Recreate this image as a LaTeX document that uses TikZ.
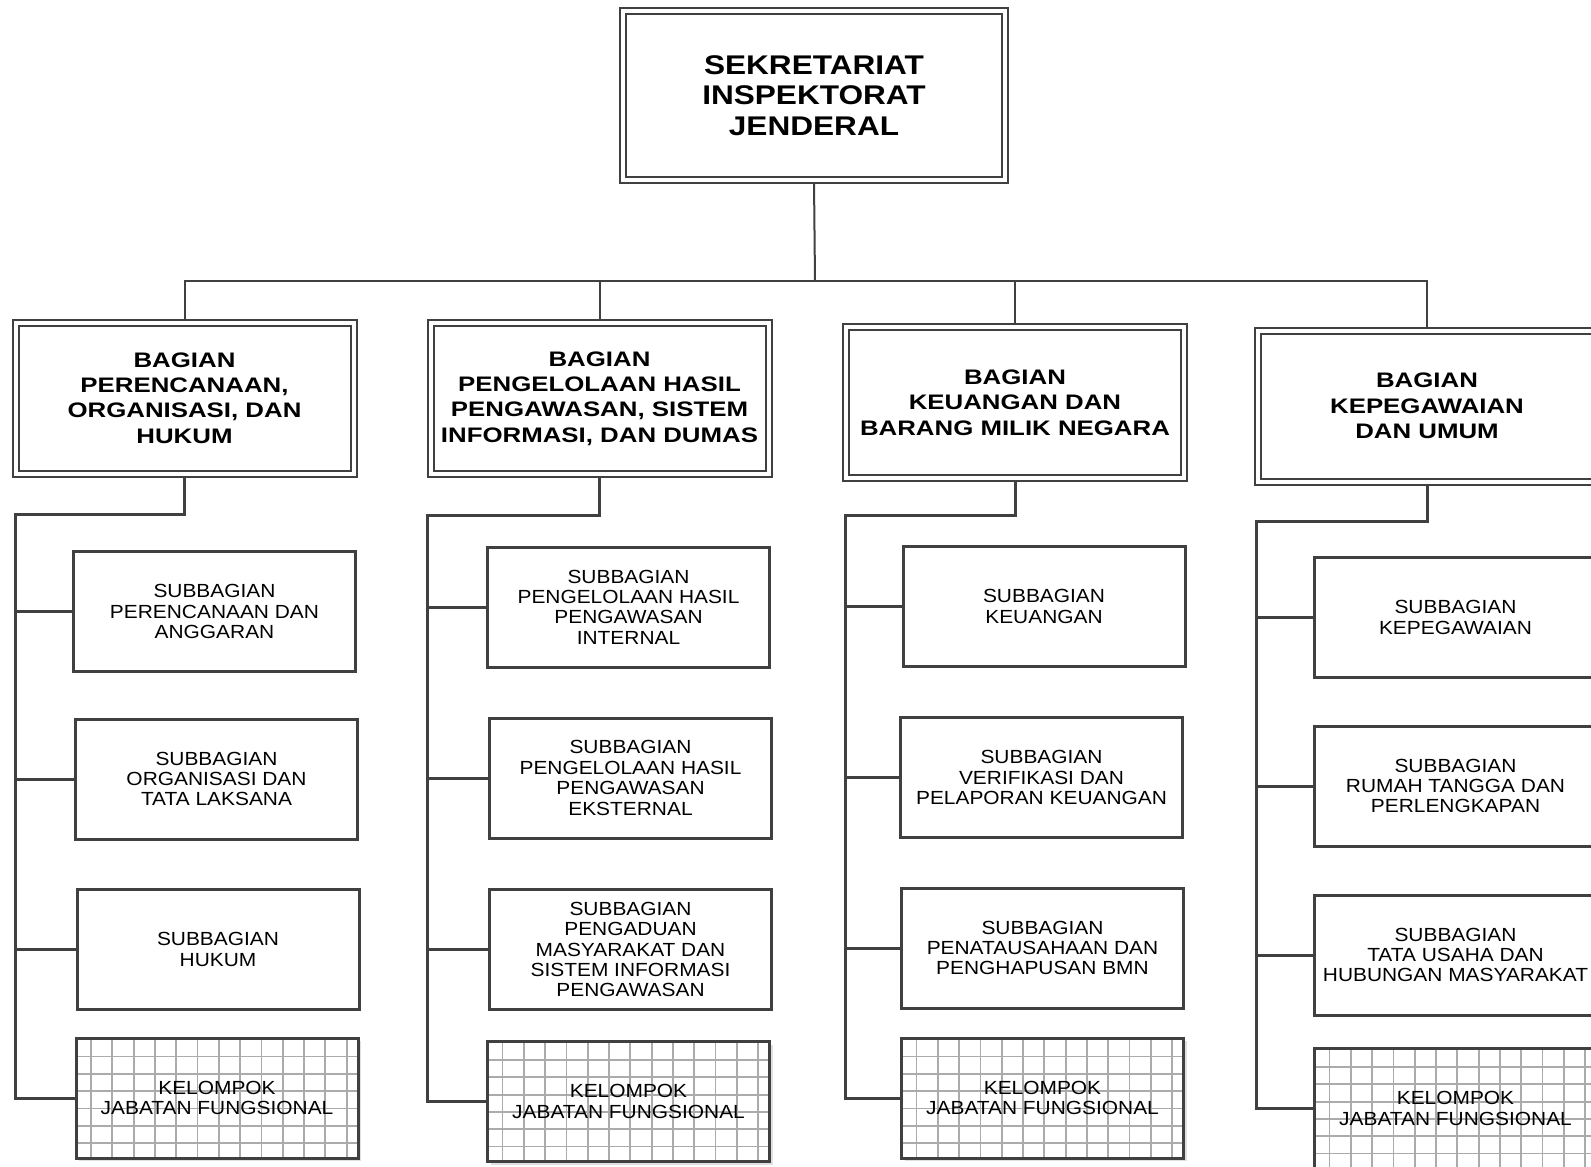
\documentclass[tikz,border=0pt]{standalone}
\usepackage{fontspec}
\setmainfont{Liberation Sans}
\newfontfamily\topfont[FakeStretch=1.17]{Liberation Sans}
\newfontfamily\bagfont[FakeStretch=1.23]{Liberation Sans}
\newfontfamily\subfont[FakeStretch=1.1]{Liberation Sans}
\usetikzlibrary{backgrounds,shadows}
\definecolor{linegray}{HTML}{404040}
\definecolor{gridgray}{HTML}{ABABAB}
\pgfdeclarelayer{background}
\begin{document}
\begin{tikzpicture}[x=0.5pt, y=-0.5pt,
  dbox/.style={draw=linegray, line width=1pt, double=white, double distance=2pt, fill=white, inner sep=0pt, align=center},
  topbox/.style={dbox, minimum width=191pt, minimum height=84.5pt, font=\topfont\bfseries\fontsize{13.5}{15.2}\selectfont},
  bagbox/.style={dbox, minimum width=169pt, minimum height=75.5pt, font=\bagfont\bfseries\fontsize{10.5}{12.7}\selectfont},
  subbox/.style={draw=linegray, line width=1.5pt, fill=white, minimum width=141pt, minimum height=60pt, inner sep=0pt, align=center, font=\subfont\fontsize{9.5}{10.2}\selectfont},
  kjfbox/.style={subbox, drop shadow={opacity=0.3, fill=black!40, shadow xshift=1.5pt, shadow yshift=-1.5pt},
    path picture={
      \foreach \gx in {0,...,12}
        \draw[gridgray, line width=0.9pt] ([xshift=7.5pt+\gx*10.65pt]path picture bounding box.north west) -- ([xshift=7.5pt+\gx*10.65pt]path picture bounding box.south west);
      \foreach \gy in {0,...,5}
        \draw[gridgray, line width=0.9pt] ([yshift=-9.25pt-\gy*8.65pt]path picture bounding box.north west) -- ([yshift=-9.25pt-\gy*8.65pt]path picture bounding box.north east);
    }},
  trunk/.style={draw=linegray, line width=1pt},
  link/.style={draw=linegray, line width=1.5pt}]
\useasboundingbox (0,0) rectangle (1591,1167);
\node[topbox] (sek) at (814,95.5) {SEKRETARIAT\\INSPEKTORAT\\JENDERAL};
\node[bagbox] (bag1) at (184.5,398) {BAGIAN\\PERENCANAAN,\\ORGANISASI, DAN\\HUKUM};
\node[bagbox] (bag2) at (599.5,398.5) {BAGIAN\\PENGELOLAAN HASIL\\PENGAWASAN, SISTEM\\INFORMASI, DAN DUMAS};
\node[bagbox] (bag3) at (1015,402.5) {BAGIAN\\KEUANGAN DAN\\BARANG MILIK NEGARA};
\node[bagbox] (bag4) at (1427,406) {BAGIAN\\KEPEGAWAIAN\\DAN UMUM};
\node[subbox] (sub11) at (214.5,611.5) {SUBBAGIAN\\PERENCANAAN DAN\\ANGGARAN};
\node[subbox] (sub12) at (216.5,779) {SUBBAGIAN\\ORGANISASI DAN\\TATA LAKSANA};
\node[subbox] (sub13) at (218,949.5) {SUBBAGIAN\\HUKUM};
\node[kjfbox] (kjf1) at (217,1098) {KELOMPOK\\JABATAN FUNGSIONAL};
\node[subbox] (sub21) at (628.5,607) {SUBBAGIAN\\PENGELOLAAN HASIL\\PENGAWASAN\\INTERNAL};
\node[subbox] (sub22) at (630.5,778) {SUBBAGIAN\\PENGELOLAAN HASIL\\PENGAWASAN\\EKSTERNAL};
\node[subbox] (sub23) at (630.5,949.5) {SUBBAGIAN\\PENGADUAN\\MASYARAKAT DAN\\SISTEM INFORMASI\\PENGAWASAN};
\node[kjfbox] (kjf2) at (628.5,1101.5) {KELOMPOK\\JABATAN FUNGSIONAL};
\node[subbox] (sub31) at (1044,606.5) {SUBBAGIAN\\KEUANGAN};
\node[subbox] (sub32) at (1041.5,777.5) {SUBBAGIAN\\VERIFIKASI DAN\\PELAPORAN KEUANGAN};
\node[subbox] (sub33) at (1042.5,948) {SUBBAGIAN\\PENATAUSAHAAN DAN\\PENGHAPUSAN BMN};
\node[kjfbox] (kjf3) at (1042.5,1098) {KELOMPOK\\JABATAN FUNGSIONAL};
\node[subbox] (sub41) at (1455.5,617.5) {SUBBAGIAN\\KEPEGAWAIAN};
\node[subbox] (sub42) at (1455.5,786) {SUBBAGIAN\\RUMAH TANGGA DAN\\PERLENGKAPAN};
\node[subbox] (sub43) at (1455.5,955) {SUBBAGIAN\\TATA USAHA DAN\\HUBUNGAN MASYARAKAT};
\node[kjfbox] (kjf4) at (1455.5,1108.5) {KELOMPOK\\JABATAN FUNGSIONAL};
\coordinate (bus) at (815,281);
\coordinate (sp1) at (15,514);
\coordinate (sp2) at (427,515);
\coordinate (sp3) at (845,515);
\coordinate (sp4) at (1256,521);
\begin{pgfonlayer}{background}
\draw[trunk] (sek.south) -- (bus);
\draw[trunk] (bag1.north) |- (bus) -| (bag4.north);
\draw[trunk] (bus -| bag2.north) -- (bag2.north);
\draw[trunk] (bus -| bag3.north) -- (bag3.north);
\foreach \i in {1,...,4}{
  \draw[link] (bag\i.south) |- (sp\i) |- (kjf\i.west);
  \foreach \j in {1,2,3}
    \draw[link] (sp\i |- sub\i\j.west) -- (sub\i\j.west);
}
\end{pgfonlayer}
\end{tikzpicture}
\end{document}
